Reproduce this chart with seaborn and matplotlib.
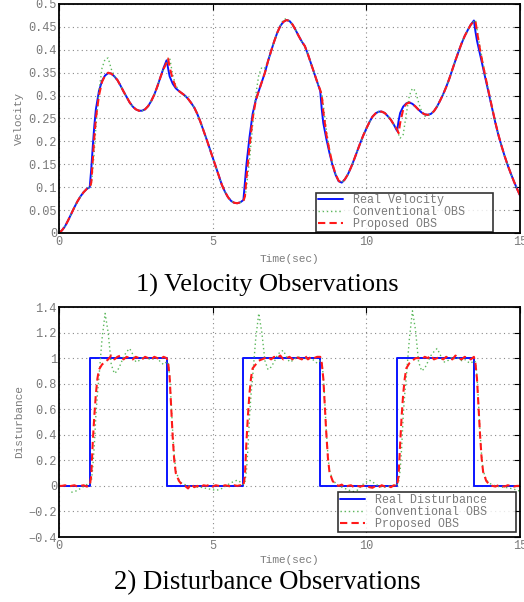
import numpy as np
import pandas as pd
import matplotlib
matplotlib.use("Agg")
import matplotlib.pyplot as plt
import seaborn as sns

# ---------------- data: velocity observations ----------------
vel_extra_times = [1.05, 1.15, 3.55, 6.05, 8.55, 11.05, 13.55]
time_v = sorted(set(np.round(np.arange(0, 15.001, 0.1), 2)) | set(vel_extra_times))

real_velocity = (
    [0.0, 0.006, 0.015, 0.028, 0.042, 0.056, 0.069, 0.080, 0.089, 0.096, 0.100]
    + [0.140, 0.190, 0.235, 0.270]
    + [0.310, 0.332, 0.344, 0.349, 0.348, 0.342, 0.334, 0.322, 0.309, 0.297, 0.285, 0.276,
       0.270, 0.267, 0.267, 0.270, 0.277, 0.288, 0.302, 0.320, 0.340, 0.360, 0.377]
    + [0.360]
    + [0.342, 0.326, 0.316, 0.310, 0.305, 0.300, 0.293, 0.284, 0.274, 0.260, 0.243, 0.224,
       0.205, 0.185, 0.165, 0.145, 0.125, 0.105, 0.090, 0.078, 0.070, 0.066, 0.065, 0.067, 0.072]
    + [0.110]
    + [0.150, 0.210, 0.260, 0.290, 0.310, 0.330, 0.350, 0.375, 0.397, 0.418, 0.437, 0.452,
       0.461, 0.465, 0.463, 0.455, 0.443, 0.430, 0.418, 0.408, 0.390, 0.370, 0.350, 0.330, 0.310]
    + [0.270]
    + [0.240, 0.205, 0.175, 0.148, 0.127, 0.113, 0.110, 0.117, 0.128, 0.143, 0.160, 0.178,
       0.196, 0.213, 0.228, 0.242, 0.254, 0.261, 0.265, 0.265, 0.262, 0.255, 0.247, 0.236, 0.223]
    + [0.245]
    + [0.262, 0.276, 0.283, 0.285, 0.282, 0.276, 0.269, 0.263, 0.259, 0.258, 0.260, 0.266,
       0.276, 0.289, 0.303, 0.319, 0.337, 0.357, 0.377, 0.396, 0.414, 0.430, 0.443, 0.455, 0.464]
    + [0.440]
    + [0.420, 0.390, 0.360, 0.330, 0.300, 0.270, 0.240, 0.213, 0.190, 0.168, 0.148, 0.130,
       0.113, 0.097, 0.082]
)

conventional_velocity = (
    [0.0, 0.006, 0.015, 0.028, 0.042, 0.056, 0.069, 0.080, 0.089, 0.096, 0.100]
    + [0.105, 0.140, 0.180, 0.230]
    + [0.310, 0.360, 0.380, 0.382, 0.358, 0.343, 0.334, 0.322, 0.309, 0.297, 0.285, 0.276,
       0.270, 0.267, 0.267, 0.270, 0.277, 0.288, 0.302, 0.320, 0.340, 0.358, 0.370]
    + [0.380]
    + [0.383, 0.345, 0.322, 0.311, 0.305, 0.300, 0.293, 0.284, 0.274, 0.260, 0.243, 0.224,
       0.205, 0.185, 0.165, 0.145, 0.125, 0.105, 0.090, 0.078, 0.070, 0.066, 0.065, 0.067, 0.072]
    + [0.075]
    + [0.100, 0.160, 0.235, 0.300, 0.345, 0.362, 0.360, 0.375, 0.397, 0.418, 0.437, 0.453,
       0.466, 0.468, 0.463, 0.455, 0.443, 0.430, 0.418, 0.408, 0.390, 0.370, 0.350, 0.330, 0.312]
    + [0.305]
    + [0.280, 0.225, 0.183, 0.152, 0.129, 0.115, 0.110, 0.117, 0.128, 0.143, 0.160, 0.178,
       0.196, 0.213, 0.228, 0.242, 0.254, 0.261, 0.265, 0.265, 0.262, 0.255, 0.247, 0.236, 0.228]
    + [0.215]
    + [0.207, 0.215, 0.260, 0.300, 0.316, 0.310, 0.285, 0.265, 0.255, 0.256, 0.260, 0.266,
       0.276, 0.289, 0.303, 0.319, 0.337, 0.357, 0.377, 0.396, 0.414, 0.430, 0.443, 0.455, 0.462]
    + [0.465]
    + [0.445, 0.405, 0.370, 0.335, 0.303, 0.272, 0.241, 0.214, 0.190, 0.168, 0.148, 0.130,
       0.113, 0.097, 0.082]
)

proposed_velocity = (
    [0.0, 0.006, 0.015, 0.028, 0.042, 0.056, 0.069, 0.080, 0.089, 0.096, 0.100]
    + [0.110, 0.160, 0.210, 0.250]
    + [0.300, 0.330, 0.344, 0.350, 0.348, 0.342, 0.334, 0.322, 0.309, 0.297, 0.285, 0.276,
       0.270, 0.267, 0.267, 0.270, 0.277, 0.288, 0.302, 0.320, 0.340, 0.358, 0.372]
    + [0.381]
    + [0.362, 0.336, 0.318, 0.310, 0.305, 0.300, 0.293, 0.284, 0.274, 0.260, 0.243, 0.224,
       0.205, 0.185, 0.165, 0.145, 0.125, 0.105, 0.090, 0.078, 0.070, 0.066, 0.065, 0.067, 0.070]
    + [0.080]
    + [0.120, 0.190, 0.250, 0.288, 0.310, 0.330, 0.350, 0.375, 0.397, 0.418, 0.437, 0.452,
       0.461, 0.465, 0.463, 0.455, 0.443, 0.430, 0.418, 0.408, 0.390, 0.370, 0.350, 0.330, 0.312]
    + [0.300]
    + [0.265, 0.215, 0.180, 0.150, 0.128, 0.114, 0.110, 0.117, 0.128, 0.143, 0.160, 0.178,
       0.196, 0.213, 0.228, 0.242, 0.254, 0.261, 0.265, 0.265, 0.262, 0.255, 0.247, 0.236, 0.226]
    + [0.218]
    + [0.240, 0.270, 0.282, 0.285, 0.282, 0.276, 0.269, 0.263, 0.259, 0.258, 0.260, 0.266,
       0.276, 0.289, 0.303, 0.319, 0.337, 0.357, 0.377, 0.396, 0.414, 0.430, 0.443, 0.455, 0.462]
    + [0.463]
    + [0.440, 0.400, 0.365, 0.333, 0.302, 0.271, 0.241, 0.214, 0.190, 0.168, 0.148, 0.130,
       0.113, 0.097, 0.082]
)

# ---------------- data: disturbance observations ----------------
step_times = [0.0, 1.0, 3.5, 6.0, 8.5, 11.0, 13.5, 15.0]
step_levels = [0, 1, 0, 1, 0, 1, 0, 0]

dist_extra_times = [1.05, 1.15, 1.25, 3.55, 3.65, 3.75, 6.05, 6.15, 6.25,
                    8.55, 8.65, 8.75, 11.05, 11.15, 11.25, 13.55, 13.65, 13.75]
time_d = sorted(set(np.round(np.arange(0, 15.001, 0.1), 2)) | set(dist_extra_times))

nan = np.nan
conventional_dist = (
    [nan, nan, nan, nan, -0.05, -0.045, -0.035, -0.02, -0.005, 0.01, 0.02]
    + [0.03, 0.15, 0.32, 0.55, 0.72, 0.85]
    + [1.15, 1.35, 1.2, 0.95, 0.88, 0.9, 0.95, 1.01, 1.05, 1.075, 1.03, 0.97, 0.98, 1.0,
       1.01, 0.99, 1.0, 0.99, 1.0, 0.97, 0.95, 0.97]
    + [0.97, 0.86, 0.65, 0.42, 0.24, 0.12]
    + [0.05, 0.02, 0.01, 0.0, 0.0, -0.005, -0.01, -0.01, -0.015, -0.02, -0.025, -0.03,
       -0.035, -0.03, -0.02, -0.005, 0.01, 0.025, 0.035, 0.045, 0.03, 0.01]
    + [0.03, 0.12, 0.3, 0.55, 0.72, 0.85]
    + [1.15, 1.35, 1.2, 0.98, 0.91, 0.93, 0.97, 1.02, 1.05, 1.06, 1.01, 0.97, 0.98, 1.0,
       1.01, 0.99, 1.0, 0.99, 1.0, 0.98, 0.96, 0.98]
    + [0.97, 0.86, 0.65, 0.42, 0.24, 0.12]
    + [0.05, 0.02, 0.0, -0.01, -0.02, -0.03, -0.04, -0.045, -0.035, -0.01, 0.015, 0.03,
       0.045, 0.03, 0.015, 0.0, -0.01, -0.01, -0.005, 0.0, 0.005, 0.01]
    + [0.03, 0.12, 0.3, 0.55, 0.72, 0.85]
    + [1.15, 1.37, 1.22, 0.97, 0.9, 0.92, 0.97, 1.02, 1.05, 1.075, 1.03, 0.97, 0.97, 0.99,
       1.01, 0.99, 1.0, 0.98, 0.99, 0.97, 0.96, 0.98]
    + [0.97, 0.86, 0.65, 0.42, 0.24, 0.12]
    + [0.05, 0.02, 0.01, 0.0, -0.005, -0.01, -0.01, -0.015, -0.02, -0.025, -0.035, -0.04]
)

proposed_dist = (
    [0.0, 0.0, 0.005, -0.005, 0.0, 0.005, -0.005, 0.0, 0.005, -0.005, 0.0]
    + [0.08, 0.35, 0.55, 0.72, 0.84, 0.91]
    + [0.95, 0.97, 0.99, 1.02, 0.99, 1.01, 1.02, 0.99, 1.01, 1.0, 0.99, 1.01, 1.0, 0.99,
       1.01, 1.0, 0.99, 1.01, 1.0, 0.99, 1.01, 1.0]
    + [0.97, 0.85, 0.62, 0.38, 0.2, 0.1]
    + [0.04, 0.01, 0.0, -0.02, 0.015, -0.01, 0.0, -0.015, 0.005, 0.0, 0.01, -0.005,
       0.005, 0.0, -0.005, 0.005, 0.0, -0.005, 0.005, 0.0, 0.005, 0.0]
    + [0.08, 0.35, 0.56, 0.73, 0.85, 0.92]
    + [0.95, 0.98, 0.99, 1.0, 1.01, 0.99, 1.01, 1.0, 1.02, 0.99, 1.0, 1.01, 0.99, 1.01,
       1.0, 0.99, 1.02, 0.99, 1.01, 1.0, 1.01, 1.01]
    + [0.96, 0.84, 0.62, 0.4, 0.22, 0.11]
    + [0.04, 0.01, 0.0, 0.01, -0.01, 0.0, 0.005, -0.01, 0.0, -0.005, 0.0, 0.005,
       -0.01, -0.015, 0.0, -0.01, 0.005, -0.005, 0.0, -0.01, 0.005, 0.0]
    + [0.08, 0.33, 0.55, 0.72, 0.84, 0.92]
    + [0.96, 0.98, 1.0, 1.0, 0.99, 1.01, 1.0, 1.02, 0.99, 1.0, 1.01, 0.99, 1.01, 1.0,
       0.99, 1.02, 1.0, 0.99, 1.01, 1.0, 0.99, 1.01]
    + [0.96, 0.84, 0.62, 0.4, 0.22, 0.11]
    + [0.04, 0.01, 0.0, -0.005, 0.005, 0.0, -0.005, 0.005, 0.0, -0.005, 0.0, 0.0]
)

x_ticks = [0, 5, 10, 15]
vel_ticks = [0, 0.05, 0.1, 0.15, 0.2, 0.25, 0.3, 0.35, 0.4, 0.45, 0.5]
dist_ticks = [-0.4, -0.2, 0, 0.2, 0.4, 0.6, 0.8, 1.0, 1.2, 1.4]

captions = ["1) Velocity Observations", "2) Disturbance Observations"]
legend_vel = ["Real Velocity", "Conventional OBS", "Proposed OBS"]
legend_dist = ["Real Disturbance", "Conventional OBS", "Proposed OBS"]

# ---------------- styling ----------------
sns.set_theme(style="white")
plt.rcParams["font.family"] = ["Liberation Mono", "DejaVu Sans Mono"]

BLUE = "#0a14ff"
GREEN = "#5cb85c"
RED = "#ff1a1a"
GREY = "#7a7a7a"
TICK_FS = 8.6
LEG_FS = 8.4

fig = plt.figure(figsize=(5.24, 6.02), dpi=100)
ax1 = fig.add_axes([59 / 524, 1 - 233 / 602, 461 / 524, 229 / 602])
ax2 = fig.add_axes([59 / 524, 1 - 537 / 602, 461 / 524, 230 / 602])


def fmt(v):
    return f"{v:g}".replace("-", "\u2212")


def style_axes(ax, yticks, ylim, ylabel, xlabelpad):
    ax.set_xlim(0, 15)
    ax.set_ylim(*ylim)
    ax.set_xticks(x_ticks)
    ax.set_xticklabels([fmt(v) for v in x_ticks])
    ax.set_yticks(yticks)
    ax.set_yticklabels([fmt(v) for v in yticks])
    ax.tick_params(direction="in", top=True, right=True, length=4, width=0.8,
                   colors="black", labelcolor=GREY, labelsize=TICK_FS)
    ax.tick_params(axis="x", pad=2.5)
    ax.tick_params(axis="y", pad=1.5)
    ax.grid(True, color="#8a8a8a", linestyle=(0, (1, 3)), linewidth=0.8)
    ax.set_axisbelow(True)
    for s in ax.spines.values():
        s.set_color("black")
        s.set_linewidth(1.3)
    ax.set_xlabel("Time(sec)", color=GREY, fontsize=8, labelpad=xlabelpad)
    ax.set_ylabel(ylabel, color=GREY, fontsize=8, labelpad=3)


# velocity panel
dv = pd.DataFrame({"t": time_v, "real": real_velocity,
                   "conv": conventional_velocity, "prop": proposed_velocity})
sns.lineplot(data=dv, x="t", y="real", ax=ax1, color=BLUE, linewidth=1.4,
             estimator=None, sort=False, label=legend_vel[0])
sns.lineplot(data=dv, x="t", y="conv", ax=ax1, color=GREEN, linewidth=1.0,
             linestyle=(0, (1, 2)), estimator=None, sort=False, label=legend_vel[1])
sns.lineplot(data=dv, x="t", y="prop", ax=ax1, color=RED, linewidth=1.5,
             linestyle=(0, (3.5, 2)), estimator=None, sort=False, label=legend_vel[2])
style_axes(ax1, vel_ticks, (0, 0.5), "Velocity", 4)

# disturbance panel
ds = pd.DataFrame({"t": step_times, "real": step_levels})
dd = pd.DataFrame({"t": time_d, "conv": conventional_dist, "prop": proposed_dist})
sns.lineplot(data=ds, x="t", y="real", ax=ax2, color=BLUE, linewidth=1.4,
             drawstyle="steps-post", estimator=None, sort=False, label=legend_dist[0])
sns.lineplot(data=dd.dropna(), x="t", y="conv", ax=ax2, color=GREEN, linewidth=1.0,
             linestyle=(0, (1, 2)), estimator=None, sort=False, label=legend_dist[1])
sns.lineplot(data=dd, x="t", y="prop", ax=ax2, color=RED, linewidth=1.5,
             linestyle=(0, (3.5, 2)), estimator=None, sort=False, label=legend_dist[2])
style_axes(ax2, dist_ticks, (-0.4, 1.4), "Disturbance", 1.5)

for ax, anchor in ((ax1, (0.5575, 0.004, 0.384, 0.0)),
                   (ax2, (0.605, 0.022, 0.386, 0.0))):
    leg = ax.legend(loc="lower left", bbox_to_anchor=anchor, mode="expand",
                    frameon=True, fancybox=False, fontsize=LEG_FS,
                    labelspacing=0.0, handlelength=2.2, handletextpad=0.8,
                    borderpad=0.15, borderaxespad=0.0)
    leg.get_frame().set_edgecolor("black")
    leg.get_frame().set_linewidth(1.2)
    for txt in leg.get_texts():
        txt.set_color(GREY)

fig.text(267 / 524, 1 - 285 / 602, captions[0], ha="center", va="center",
         fontsize=19, family="Liberation Serif", color="black")
fig.text(267 / 524, 1 - 583 / 602, captions[1], ha="center", va="center",
         fontsize=19.3, family="Liberation Serif", color="black")

fig.savefig("out.png", dpi=100)
